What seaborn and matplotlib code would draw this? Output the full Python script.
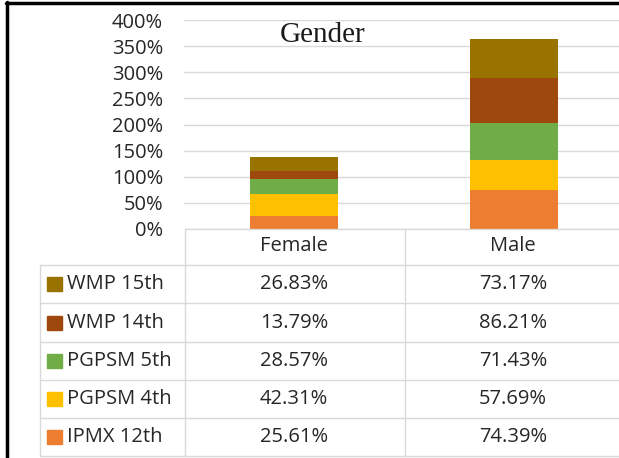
import numpy as np
import pandas as pd
import matplotlib
matplotlib.use("Agg")
import matplotlib.pyplot as plt
import seaborn as sns

# dados (percentagens)
genders = ["Female", "Male"]
series = ["IPMX 12th", "PGPSM 4th", "PGPSM 5th", "WMP 14th", "WMP 15th"]
ipmx_12 = [25.61, 74.39]
pgpsm_4 = [42.31, 57.69]
pgpsm_5 = [28.57, 71.43]
wmp_14 = [13.79, 86.21]
wmp_15 = [26.83, 73.17]
colors = ["#ED7D31", "#FFC000", "#70AD47", "#9E480E", "#997300"]

values = [ipmx_12, pgpsm_4, pgpsm_5, wmp_14, wmp_15]
W, H = 619, 458
txt_c = "#262626"
fs = 14.5

sns.set_style("white")
plt.rcParams["font.family"] = ["Open Sans", "DejaVu Sans"]

fig = plt.figure(figsize=(W / 100, H / 100), dpi=100)

# eixo do grafico em pixeis da imagem
x0, x1, ytop, ybot = 184, 624, 20, 229
ax = fig.add_axes([x0 / W, 1 - ybot / H, (x1 - x0) / W, (ybot - ytop) / H])

bottom = np.zeros(len(genders))
for name, vals, col in zip(series, values, colors):
    df = pd.DataFrame({"gender": genders, "val": np.array(vals) / 100})
    sns.barplot(data=df, x="gender", y="val", order=genders, color=col,
                width=0.4, bottom=bottom, ax=ax, saturation=1, linewidth=0)
    bottom = bottom + df["val"].values

ticks = np.arange(0, 4.01, 0.5)
ax.set_ylim(0, 4)
ax.set_xlim(-0.5, 1.5)
ax.set_yticks(ticks)
ax.set_yticklabels([f"{int(round(t * 100))}%" for t in ticks],
                   fontsize=fs, color=txt_c)
ax.yaxis.grid(True, color="#D9D9D9", linewidth=1)
ax.set_axisbelow(True)
ax.set_xticks([])
ax.set_xlabel("")
ax.set_ylabel("")
ax.tick_params(axis="y", length=0, pad=15)
for s in ax.spines.values():
    s.set_visible(False)

ax.text(0.13, 3.71, "Gender", ha="center", va="center", fontsize=21,
        family=["Liberation Serif", "DejaVu Serif"], color="#1a1a1a")

# tabela de dados desenhada numa camada por cima
ov = fig.add_axes([0, 0, 1, 1], facecolor="none")
ov.set_xlim(0, W)
ov.set_ylim(H, 0)
ov.axis("off")

grid_c = "#D9D9D9"
rows_y = [265, 303, 342, 380, 418, 456]
ov.plot([185, W], [229, 229], color=grid_c, lw=1)
for y in rows_y:
    ov.plot([40, W], [y, y], color=grid_c, lw=1)
ov.plot([185, 185], [229, 456], color=grid_c, lw=1)
ov.plot([405, 405], [229, 456], color=grid_c, lw=1)
ov.plot([40, 40], [265, 456], color=grid_c, lw=1)

col_x = [294, 513]
for g, cx in zip(genders, col_x):
    ov.text(cx, 246, g, ha="center", va="center", fontsize=fs, color=txt_c)

# linhas da tabela de cima para baixo (ordem inversa da pilha)
for i, (name, vals, col) in enumerate(zip(series[::-1], values[::-1], colors[::-1])):
    yc = (rows_y[i] + rows_y[i + 1]) / 2
    ov.add_patch(plt.Rectangle((47, yc - 7), 15, 14, color=col))
    ov.text(67, yc, name, ha="left", va="center", fontsize=fs, color=txt_c)
    for v, cx in zip(vals, col_x):
        ov.text(cx, yc, f"{v:.2f}%", ha="center", va="center", fontsize=fs,
                color=txt_c)

# moldura preta
ov.plot([6.5, 6.5], [2, H], color="black", lw=2.5)
ov.plot([6, W], [2.5, 2.5], color="black", lw=2.5)

fig.savefig("out.png", dpi=100)
